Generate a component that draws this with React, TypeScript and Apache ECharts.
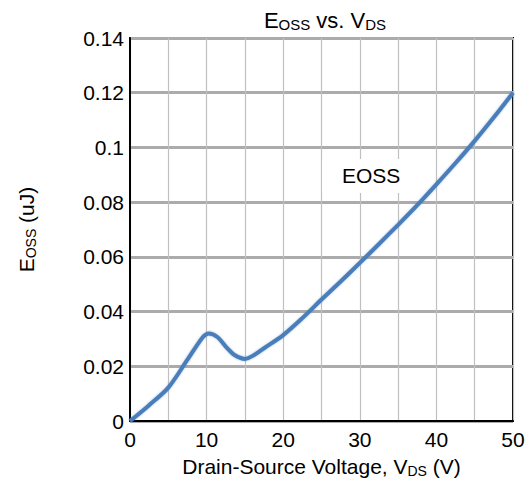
import React, { useEffect, useRef } from "react";
import * as echarts from "echarts";

const vds = [0, 2.5, 5, 7.5, 9.5, 10.3, 11.4, 12.5, 13.6, 15, 16.2, 17.5, 20, 22.5, 25, 27.5, 30, 32.5, 35, 37.5, 40, 42.5, 45, 47.5, 50];
const eoss = [0, 0.0058, 0.0122, 0.0224, 0.0306, 0.032, 0.0307, 0.0272, 0.0242, 0.0227, 0.0241, 0.0266, 0.0314, 0.0376, 0.0444, 0.051, 0.0578, 0.0647, 0.0717, 0.0789, 0.0865, 0.0943, 0.1024, 0.111, 0.12];
const yTicks = [0, 0.02, 0.04, 0.06, 0.08, 0.1, 0.12, 0.14];
const xTicks = [0, 10, 20, 30, 40, 50];

const FONT = "'Liberation Sans', Arial, sans-serif";

export default function App() {
  const ref = useRef<HTMLDivElement>(null);
  useEffect(() => {
    const chart = echarts.init(ref.current!, undefined, { renderer: "svg" });
    const sub = { fontSize: 14, fontFamily: FONT, color: "#000", padding: [9, 0, 0, 0] };
    chart.setOption({
      animation: false,
      title: {
        text: "E{sub|OSS} vs. V{sub|DS}",
        left: 320,
        top: 3,
        textAlign: "center",
        textStyle: {
          fontSize: 22,
          fontWeight: "normal",
          fontFamily: FONT,
          color: "#000",
          rich: { sub: { ...sub, fontSize: 15 } },
        },
      },
      grid: {
        left: 130,
        right: 19,
        top: 38,
        bottom: 73,
        show: true,
        borderColor: "#000",
        borderWidth: 2,
        backgroundColor: "#fff",
      },
      xAxis: {
        type: "value",
        min: 0,
        max: 50,
        interval: 10,
        name: "Drain-Source Voltage, V{sub|DS} (V)",
        nameLocation: "middle",
        nameGap: 34,
        nameTextStyle: {
          fontSize: 21,
          fontFamily: FONT,
          color: "#000",
          rich: { sub },
        },
        axisLine: { show: true, lineStyle: { color: "#000", width: 2 } },
        axisTick: { show: false },
        axisLabel: {
          fontSize: 21,
          fontFamily: FONT,
          color: "#000",
          margin: 8,
          formatter: (v: number) => (xTicks.includes(v) ? String(v) : ""),
        },
        splitLine: { show: true, lineStyle: { color: "#c0c0c0", width: 1.2 } },
        minorTick: { show: false, splitNumber: 2 },
        minorSplitLine: { show: true, lineStyle: { color: "#c0c0c0", width: 1.2 } },
      },
      yAxis: {
        type: "value",
        min: 0,
        max: 0.14,
        interval: 0.02,
        name: "E{sub|OSS} (uJ)",
        nameLocation: "middle",
        nameGap: 92,
        nameRotate: 90,
        nameTextStyle: {
          fontSize: 21,
          fontFamily: FONT,
          color: "#000",
          rich: { sub },
        },
        axisLine: { show: true, lineStyle: { color: "#000", width: 2 } },
        axisTick: { show: false },
        axisLabel: {
          fontSize: 21,
          fontFamily: FONT,
          color: "#000",
          margin: 6,
          formatter: (v: number) => {
            const t = yTicks.find((k) => Math.abs(k - v) < 1e-9);
            return t === undefined ? "" : String(parseFloat(t.toFixed(2)));
          },
        },
        splitLine: { show: true, lineStyle: { color: "#ababab", width: 3 } },
      },
      graphic: [
        {
          type: "rect",
          z: 1,
          shape: { x: 322, y: 159, width: 92, height: 34 },
          style: { fill: "#fff" },
        },
        {
          type: "text",
          z: 1,
          x: 342,
          y: 165,
          style: { text: "EOSS", fontSize: 21, fontFamily: FONT, fill: "#000" },
        },
      ],
      series: [
        {
          type: "line",
          data: vds.map((x, i) => [x, eoss[i]]),
          smooth: 0.3,
          showSymbol: false,
          symbol: "none",
          z: 3,
          lineStyle: { color: "#4a7ebb", width: 4, shadowColor: "rgba(74,126,187,0.5)", shadowBlur: 2 },
        },
      ],
    });
    return () => chart.dispose();
  }, []);
  return <div ref={ref} style={{ width: 532, height: 494, position: "absolute", left: 0, top: 0 }} />;
}
